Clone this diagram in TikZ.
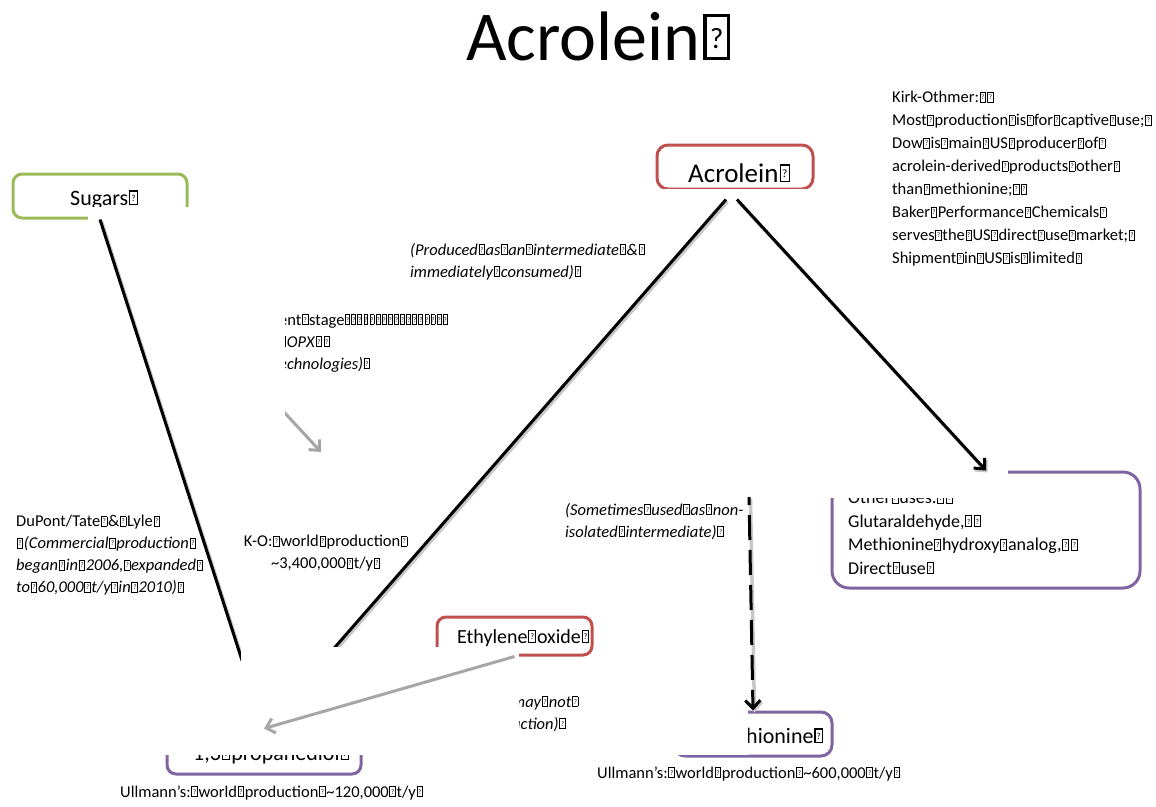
\documentclass[tikz,border=0pt]{standalone}
\usepackage{fontspec}
\setmainfont{Carlito}
\usepackage{graphicx}
\usetikzlibrary{arrows.meta,calc}

\definecolor{boxgreen}{RGB}{155,187,89}
\definecolor{boxred}{RGB}{192,80,77}
\definecolor{boxpurple}{RGB}{128,100,162}
\definecolor{arrowgray}{RGB}{166,166,166}

% placeholder glyph: a small framed box with a question mark
\newcommand\qbx[1]{\kern.04em\vbox{\hrule height.05em\hbox{\vrule width.05em\hbox to #1{\hss\vrule height.56em depth0pt width0pt\raisebox{.12em}{\scalebox{.42}{?}}\hss}\vrule width.05em}\hrule height.05em}\kern.04em}
\newcommand\qb{\qbx{.29em}}
\newcommand\qbn{\qbx{.19em}}
\newcommand\fsz[2]{\fontsize{#1}{#2}\selectfont}

\tikzset{
  rbox/.style={draw=#1, line width=3pt, rounded corners=9pt, inner sep=0pt},
  label/.style={inner sep=0pt, anchor=base west},
  note/.style={inner sep=0pt, align=left, anchor=north west, font=\fsz{16.5}{22}},
  link/.style={line width=3pt, draw=black,
    preaction={draw=black!22, line width=3.5pt, transform canvas={shift={(1.5pt,-2pt)}}}},
  barb/.style={-{Straight Barb[length=8pt,width=15pt]}},
  greylink/.style={line width=3pt, draw=arrowgray},
  patch/.style={fill=white},
}

\begin{document}
\begin{tikzpicture}[x=1pt,y=-1pt]
\useasboundingbox (0,0) rectangle (1156,806);

% title
\node[label, font=\fsz{70}{80}] (title) at (466,60) {Acrolein\qb};

% boxes
\node[rbox=boxgreen, minimum width=174pt, minimum height=44pt] (sugars) at (100,196) {};
\node[rbox=boxred, rounded corners=11pt, minimum width=156pt, minimum height=44pt] (acro) at (735,167) {};
\node[rbox=boxpurple, rounded corners=17pt, minimum width=308pt, minimum height=116pt] (other) at (986,530) {};
\node[rbox=boxred, minimum width=155pt, minimum height=38pt] (eth) at (514.5,636) {};
\node[rbox=boxpurple, minimum width=194pt, minimum height=44pt] (prop) at (264,752) {};
\node[rbox=boxpurple, rounded corners=11pt, minimum width=158pt, minimum height=44pt] (meth) at (753,734) {};

% box labels
\node[label, font=\fsz{22}{26}] (sugarsT) at (70,205) {Sugars\qb};
\node[label, font=\fsz{27}{32}] (acroT) at (688,182) {Acrolein\qb};
\node[label, font=\fsz{20}{24}] (ethT) at (457,643) {Ethylene\qb oxide\qb};
\node[label, font=\fsz{22}{26}] (propT) at (193,760) {1,3\qb propanediol\qb};
\node[label, font=\fsz{22}{26}] (methT) at (709,743) {Methionine\qb};
\node[note, font=\fsz{18}{23.5}] (otherT) at (848,491) {Other\qb uses:\qb\qb\\
Glutaraldehyde,\qb\qb\\
Methionine\qb hydroxy\qb analog,\qb\qb\\
Direct\qb use\qb};

% notes
\node[note, font=\fsz{16.5}{23}] (kirk) at (892,91) {Kirk-Othmer:\qb\qb\\
Most\qb production\qb is\qb for\qb captive\qb use;\qb\\
Dow\qb is\qb main\qb US\qb producer\qb of\qb\\
acrolein-derived\qb products\qb other\qb\\
than\qb methionine;\qb\qb\\
Baker\qb Performance\qb Chemicals\qb\\
serves\qb the\qb US\qb direct\qb use\qb market;\qb\\
Shipment\qb in\qb US\qb is\qb limited\qb};
\node[note, font=\fsz{16.5}{22}\itshape] (produced) at (410,243) {(Produced\qb as\qb an\qb intermediate\qb\&\qb\\
immediately\qb consumed)\qb};
\node[note] (devstage) at (279,314) {ent\qb stage\qbn\qbn\qbn\qbn\qbn\qbn\qbn\qbn\qbn\qbn\qbn\qbn\qbn\qbn\qbn\qbn\qbn\\
\qb\textit{OPX}\qb\qb\\
\textit{echnologies)}\qb};
\node[note, font=\fsz{16.5}{22}\itshape] (sometimes) at (565,503) {(Sometimes\qb used\qb as\qb non-\\
isolated\qb intermediate)\qb};
\node[note] (dupont) at (16,515) {DuPont/Tate\qb\&\qb Lyle\qb\\
\qb\textit{(Commercial\qb production\qb}\\
\textit{began\qb in\qb 2006,\qb expanded\qb}\\
\textit{to\qb 60,000\qb t/y\qb in\qb 2010)\qb}};
\node[note, align=center, anchor=north] (ko) at (326,535) {K-O:\qb world\qb production\qb\\
\textasciitilde3,400,000\qb t/y\qb};
\node[note, font=\fsz{16.5}{22}\itshape] (maynot) at (512,696) {may\qb not\qb\\
uction)\qb};
\node[label, font=\fsz{16.5}{20}] (ullA) at (120,797) {Ullmann’s:\qb world\qb production\qb\textasciitilde120,000\qb t/y\qb};
\node[label, font=\fsz{16.5}{20}] (ullB) at (597,778) {Ullmann’s:\qb world\qb production\qb\textasciitilde600,000\qb t/y\qb};

% short grey arrow emerging from behind the upper text panel
\coordinate (gstart) at (258,384);
\coordinate (gend) at (321,452);
\draw[greylink, barb] (gstart) -- (gend);

% white panels lying over the boxes
\fill[patch] (88,207) rectangle (285,466);
\fill[patch] (645,189) rectangle (830,199);
\fill[patch] (820,463) rectangle (1008,498);

% black connectors from the feedstocks
\coordinate (aL) at ($(acro.south)+(-9,9)$);
\coordinate (aR) at ($(acro.south)+(2,9)$);
\draw[link] (sugars.south) -- (prop.north);
\draw[link] (aL) -- (prop.north);
\draw[link, barb] (aR) -- (other.north);

% white panels over the lower part
\fill[patch] (241,647) rectangle (519,755);
\fill[patch] (150,700) rectangle (241,755);
\fill[patch] (660,700) rectangle (748,755);

% ethylene oxide route
\draw[greylink, barb] (eth.south) -- (prop.north);

% methionine route
\coordinate (dtop) at (749,497);
\draw[link, barb, dash pattern=on 25pt off 10pt, dash phase=17pt] (dtop) -- (meth.north);
\end{tikzpicture}
\end{document}
